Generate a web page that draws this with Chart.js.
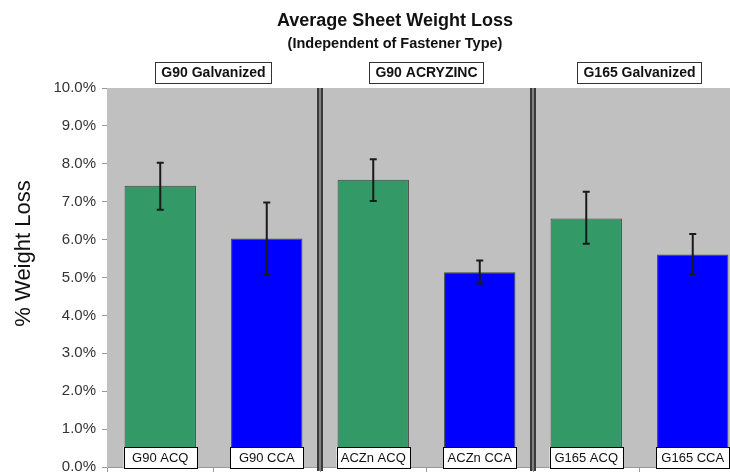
<!DOCTYPE html>
<html>
<head>
<meta charset="utf-8">
<script src="https://cdn.jsdelivr.net/npm/chart.js@4/dist/chart.umd.min.js"></script>
<style>
  body { margin: 0; background: #fff; overflow: hidden; }
  canvas { display: block; }
</style>
</head>
<body>
<canvas id="myChart" width="760" height="482" style="width:760px;height:482px"></canvas>
<script>
// values, in percent
const categories = ['G90 ACQ', 'G90 CCA', 'ACZn ACQ', 'ACZn CCA', 'G165 ACQ', 'G165 CCA']
const groups = ['G90 Galvanized', 'G90 ACRYZINC', 'G165 Galvanized']
const weightLoss = [7.42, 6.03, 7.58, 5.14, 6.56, 5.61]
const errHigh = [8.03, 6.98, 8.12, 5.45, 7.26, 6.15]
const errLow = [6.79, 5.08, 7.02, 4.84, 5.89, 5.09]
const barColors = ['#339966', '#0000ff', '#339966', '#0000ff', '#339966', '#0000ff']

const decorations = {
  id: 'decorations',
  beforeDraw (chart) {
    const { ctx, chartArea } = chart
    ctx.save()
    ctx.fillStyle = '#c0c0c0'
    ctx.fillRect(chartArea.left, chartArea.top, chartArea.right - chartArea.left, chartArea.bottom - chartArea.top)
    ctx.restore()
  },
  afterDatasetsDraw (chart) {
    const { ctx, chartArea } = chart
    const x = chart.scales.x
    const y = chart.scales.y
    const bars = chart.getDatasetMeta(0).data
    ctx.save()

    // group separators
    ;[1, 3].forEach(i => {
      const sx = (x.getPixelForValue(i) + x.getPixelForValue(i + 1)) / 2
      ctx.fillStyle = '#3a3a3a'
      ctx.fillRect(sx - 3, chartArea.top, 6, chartArea.bottom - chartArea.top + 4)
      ctx.fillStyle = '#808080'
      ctx.fillRect(sx - 1, chartArea.top, 2, chartArea.bottom - chartArea.top + 4)
    })

    // error bars
    ctx.strokeStyle = '#1a1a1a'
    ctx.lineWidth = 2
    bars.forEach((bar, i) => {
      const top = y.getPixelForValue(errHigh[i])
      const bot = y.getPixelForValue(errLow[i])
      ctx.beginPath()
      ctx.moveTo(bar.x, top)
      ctx.lineTo(bar.x, bot)
      ctx.moveTo(bar.x - 3.5, top)
      ctx.lineTo(bar.x + 3.5, top)
      ctx.moveTo(bar.x - 3.5, bot)
      ctx.lineTo(bar.x + 3.5, bot)
      ctx.stroke()
    })

    // category label boxes at the foot of each bar
    ctx.font = '13px Arial, "Liberation Sans", sans-serif'
    ctx.textAlign = 'center'
    ctx.textBaseline = 'middle'
    bars.forEach((bar, i) => {
      const w = bar.width + 2
      ctx.fillStyle = '#fff'
      ctx.fillRect(bar.x - w / 2, chartArea.bottom - 20, w, 21)
      ctx.strokeStyle = '#000'
      ctx.lineWidth = 1
      ctx.strokeRect(Math.round(bar.x - w / 2) + 0.5, chartArea.bottom - 19.5, Math.round(w), 21)
      ctx.fillStyle = '#111'
      ctx.fillText(categories[i], bar.x, chartArea.bottom - 9)
    })

    // group label boxes above the plot
    ctx.font = 'bold 14px Arial, "Liberation Sans", sans-serif'
    groups.forEach((g, i) => {
      const cx = (x.getPixelForValue(i * 2) + x.getPixelForValue(i * 2 + 1)) / 2
      const w = ctx.measureText(g).width + 12
      ctx.fillStyle = '#fff'
      ctx.fillRect(cx - w / 2, 62, w, 22)
      ctx.strokeStyle = '#333'
      ctx.strokeRect(Math.round(cx - w / 2) + 0.5, 62.5, Math.round(w), 21)
      ctx.fillStyle = '#111'
      ctx.fillText(g, cx, 73.5)
    })

    // titles
    ctx.fillStyle = '#111'
    ctx.font = 'bold 18px Arial, "Liberation Sans", sans-serif'
    ctx.fillText('Average Sheet Weight Loss', 395, 21)
    ctx.font = 'bold 14.5px Arial, "Liberation Sans", sans-serif'
    ctx.fillText('(Independent of Fastener Type)', 395, 44)

    // y axis title
    ctx.translate(24, (chartArea.top + chartArea.bottom) / 2 - 24)
    ctx.rotate(-Math.PI / 2)
    ctx.font = '22px Arial, "Liberation Sans", sans-serif'
    ctx.fillStyle = '#111'
    ctx.fillText('% Weight Loss', 0, 0)
    ctx.restore()
  }
}

const ctx = document.querySelector('#myChart')
const myChart = new Chart(ctx, {
  type: 'bar',
  data: {
    labels: categories,
    datasets: [{
      data: weightLoss,
      backgroundColor: barColors,
      borderColor: '#444',
      borderWidth: 1,
      categoryPercentage: 1,
      barPercentage: 0.67
    }]
  },
  options: {
    responsive: false,
    animation: false,
    layout: { padding: { top: 88, right: 14, left: 0, bottom: 0 } },
    plugins: {
      legend: { display: false },
      tooltip: { enabled: false }
    },
    scales: {
      x: {
        grid: { offset: true, drawOnChartArea: false, tickLength: 5, color: '#999' },
        border: { color: '#999' },
        ticks: { display: false },
        afterFit (scale) { scale.height = 6 }
      },
      y: {
        min: 0,
        max: 10,
        ticks: {
          stepSize: 1,
          padding: 6,
          color: '#333',
          font: { family: 'Arial, "Liberation Sans", sans-serif', size: 15 },
          callback: v => v.toFixed(1) + '%'
        },
        grid: { drawOnChartArea: false, tickLength: 5, color: '#999' },
        border: { color: '#c0c0c0' },
        afterFit (scale) { scale.width = 107 }
      }
    }
  },
  plugins: [decorations]
})
</script>
</body>
</html>
